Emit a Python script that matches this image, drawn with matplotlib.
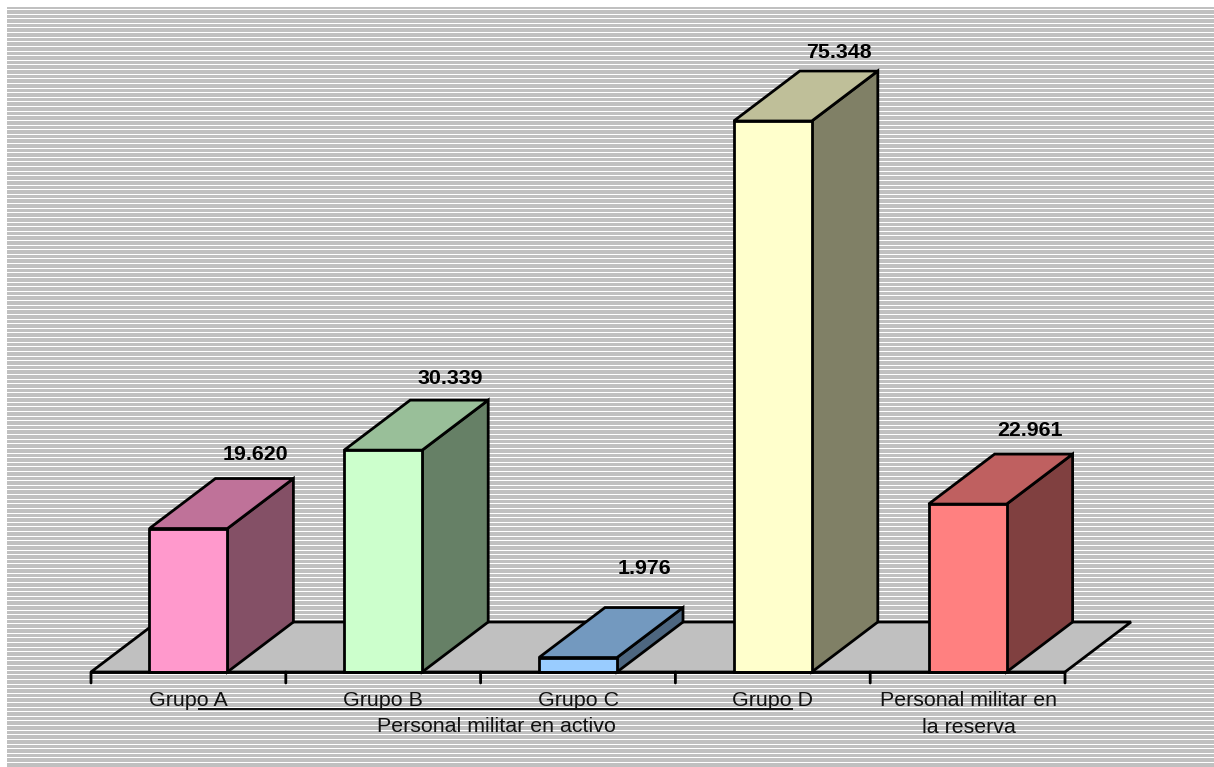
import matplotlib
matplotlib.use('Agg')
import matplotlib.pyplot as plt
from matplotlib.patches import Polygon

# Data
categories = ['Grupo A', 'Grupo B', 'Grupo C', 'Grupo D', 'Personal militar en\nla reserva']
values = [19620, 30339, 1976, 75348, 22961]
colors = ['#FF99CC', '#CCFFCC', '#99CCFF', '#FFFFCC', '#FF8080']
top_colors = ['#BF7299', '#99BF99', '#7399BF', '#BFBF99', '#BF6060']
side_colors = ['#845066', '#668066', '#4D6680', '#808066', '#804040']
group_label = 'Personal militar en activo'

plt.rcParams['font.family'] = ['Liberation Sans', 'DejaVu Sans']

W, H = 1214, 767
PX_X = 194.8      # pixels for one category
PX_Y = 551 / 75348  # pixels for one person
X0, Y0 = 91, 672  # origin of the plot in pixels

fig = plt.figure(figsize=(W / 100, H / 100), dpi=100, facecolor='white')

# Striped background, white rows snapped to whole pixels
bg = fig.add_axes([0, 0, 1, 1])
bg.set_xlim(0, W)
bg.set_ylim(H, 0)
bg.axis('off')
bg.axhspan(7, H, xmin=7 / W, xmax=1, color='#C0C0C0', lw=0, antialiased=False)
y = 9.0
while y < H:
    bg.axhspan(round(y), round(y) + 1, xmin=7 / W, xmax=1, color='white', lw=0, antialiased=False)
    y += 4.62

# Main axes covers the figure, scaled in categories and values
ax = fig.add_axes([0, 0, 1, 1])
ax.patch.set_alpha(0)
ax.set_xlim(-X0 / PX_X, (W - X0) / PX_X)
ax.set_ylim(-(H - Y0) / PX_Y, Y0 / PX_Y)
ax.axis('off')

DX = 66 / PX_X
DY = 50 / PX_Y
BAR_W = 78 / PX_X
LW = 2.0
FS = 15.4
n = len(categories)

# Floor
ax.add_patch(Polygon([(0, 0), (n, 0), (n + DX, DY), (DX, DY)], closed=True,
                     facecolor='#C0C0C0', edgecolor='black', lw=LW, joinstyle='miter'))

# Category ticks
for i in range(n + 1):
    ax.annotate('', xy=(i, 0), xytext=(0, -11), textcoords='offset pixels',
                arrowprops=dict(arrowstyle='-', color='black', lw=LW, shrinkA=0, shrinkB=0))

# Bars, drawn as three faces
label_dx = [67, 67, 66, 66, 62]
label_dy = [74, 72, 89, 69, 74]
for i, v in enumerate(values):
    l = i + 0.5 - BAR_W / 2
    r = i + 0.5 + BAR_W / 2
    front = [(l, 0), (r, 0), (r, v), (l, v)]
    top = [(l, v), (r, v), (r + DX, v + DY), (l + DX, v + DY)]
    side = [(r, 0), (r + DX, DY), (r + DX, v + DY), (r, v)]
    ax.add_patch(Polygon(side, closed=True, facecolor=side_colors[i], edgecolor='black', lw=LW))
    ax.add_patch(Polygon(top, closed=True, facecolor=top_colors[i], edgecolor='black', lw=LW))
    ax.add_patch(Polygon(front, closed=True, facecolor=colors[i], edgecolor='black', lw=LW))
    ax.annotate(f'{v:,}'.replace(',', '.'), xy=(i + 0.5, v), xytext=(label_dx[i], label_dy[i]),
                textcoords='offset pixels', ha='center', va='center',
                fontsize=FS, fontweight='bold', color='black')

# Redraw the front edge of the floor over the bars
ax.plot([0, n], [0, 0], color='black', lw=LW, solid_capstyle='butt')

# Category labels
for i, c in enumerate(categories):
    if '\n' in c:
        ax.annotate(c, xy=(i + 0.5, 0), xytext=(1, -42), textcoords='offset pixels',
                    ha='center', va='center', fontsize=FS, color='#111111', linespacing=1.55)
    else:
        ax.annotate(c, xy=(i + 0.5, 0), xytext=(0, -28), textcoords='offset pixels',
                    ha='center', va='center', fontsize=FS, color='#111111')

# Group line and label under the active personnel
ax.annotate(group_label, xy=(2, 0), xytext=(16, -54), textcoords='offset pixels',
            ha='center', va='center', fontsize=FS, color='#111111')
bg.plot([198, 793], [709, 709], color='#111111', lw=1.4, solid_capstyle='butt')

fig.savefig('out.png', dpi=100, facecolor='white')
